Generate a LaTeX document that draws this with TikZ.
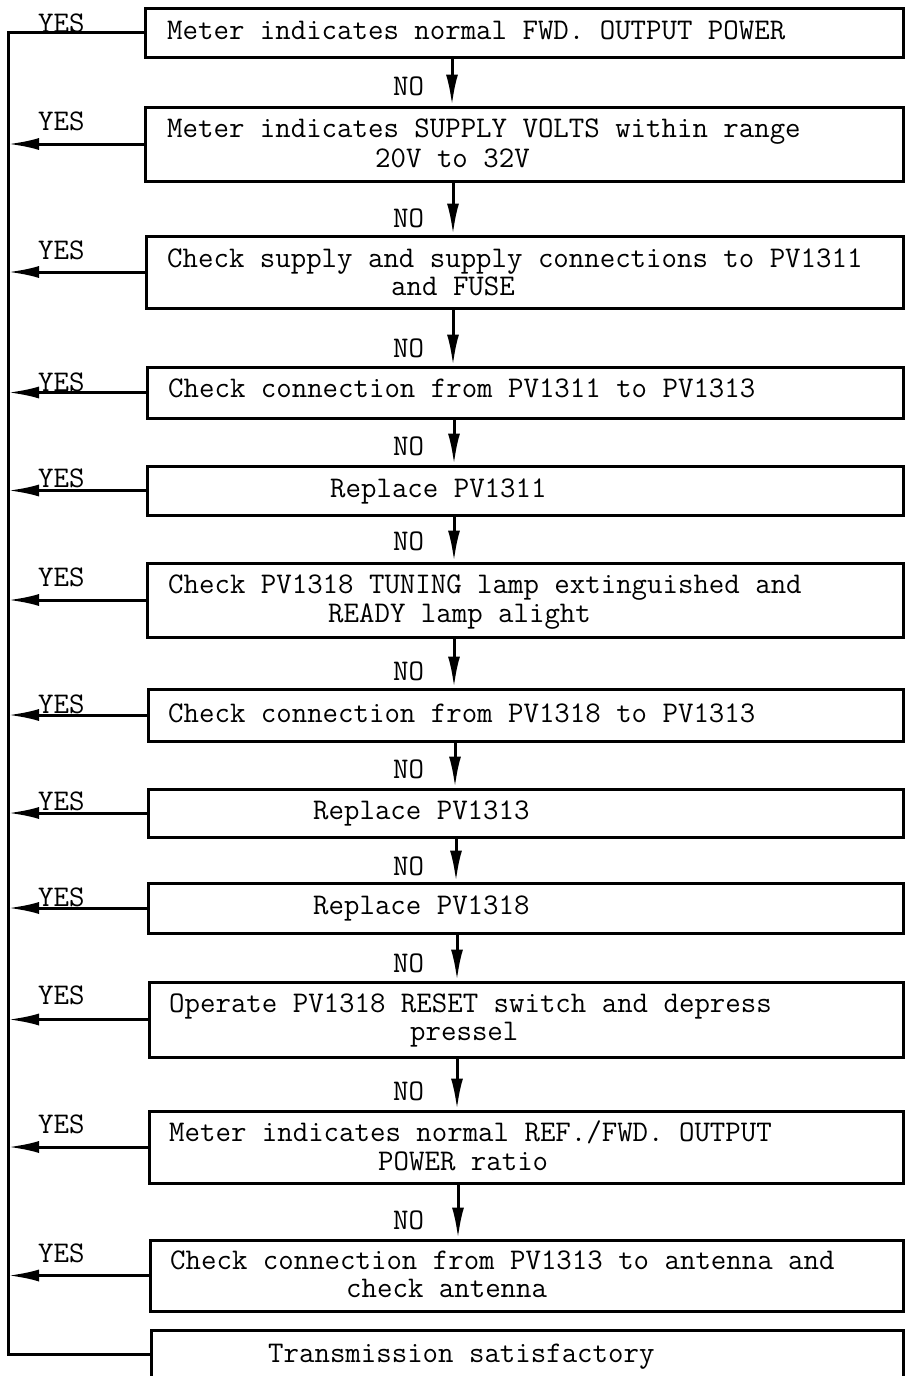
\documentclass[tikz,border=0pt]{standalone}
\usetikzlibrary{arrows.meta}
\newcommand\flowbox[4]{\node[box,minimum width={903-#2},minimum height={#4-#3}] (#1) at ({(#2+903)/2},{(#3+#4)/2}) {};}
\begin{document}
\begin{tikzpicture}[x=1pt,y=-1pt,
  box/.style={draw,line width=3pt,inner sep=0pt,rectangle},
  txt/.style={anchor=base west,inner sep=0pt,text height=19pt,text depth=6pt,font=\fontsize{30}{36}\selectfont\ttfamily\frenchspacing},
  conn/.style={line width=3pt},
  arr/.style={conn,-{Latex[length=31pt,width=12pt]}}]
\useasboundingbox (0,0) rectangle (911,1376);
\fill[white] (0,0) rectangle (911,1376);

\flowbox{b1}{145}{8}{57}
\flowbox{b2}{145}{107}{181}
\flowbox{b3}{146}{236}{308}
\flowbox{b4}{147}{367}{418}
\flowbox{b5}{147}{466}{515}
\flowbox{b6}{147}{563}{637}
\flowbox{b7}{148}{689}{741}
\flowbox{b8}{148}{789}{837}
\flowbox{b9}{148}{883}{933}
\flowbox{b10}{149}{982}{1057}
\flowbox{b11}{149}{1111}{1183}
\flowbox{b12}{150}{1240}{1311}
\flowbox{b13}{151}{1330}{1378}

% texts
\node[txt] (t1) at (167,39) {Meter indicates normal FWD. OUTPUT POWER};
\node[txt] (t2a) at (167,137) {Meter indicates SUPPLY VOLTS within range};
\node[txt] (t2b) at (375,167) {20V to 32V};
\node[txt] (t3a) at (167,267) {Check supply and supply connections to PV1311};
\node[txt] (t3b) at (391,295) {and FUSE};
\node[txt] (t4) at (168,397) {Check connection from PV1311 to PV1313};
\node[txt] (t5) at (330,497) {Replace PV1311};
\node[txt] (t6a) at (168,593) {Check PV1318 TUNING lamp extinguished and};
\node[txt] (t6b) at (328,622) {READY lamp alight};
\node[txt] (t7) at (168,722) {Check connection from PV1318 to PV1313};
\node[txt] (t8) at (313,819) {Replace PV1313};
\node[txt] (t9) at (313,914) {Replace PV1318};
\node[txt] (t10a) at (169,1012) {Operate PV1318 RESET switch and depress};
\node[txt] (t10b) at (410,1040) {pressel};
\node[txt] (t11a) at (169,1141) {Meter indicates normal REF./FWD. OUTPUT};
\node[txt] (t11b) at (378,1170) {POWER ratio};
\node[txt] (t12a) at (170,1269) {Check connection from PV1313 to antenna and};
\node[txt] (t12b) at (346,1297) {check antenna};
\node[txt] (t13) at (268,1362) {Transmission satisfactory};

% spine
\coordinate (s) at (8,0);
\draw[conn] (b1.west) -- (b1.west -| s) -- (b13.west -| s) -- (b13.west);
\foreach \i in {2,...,12} \draw[arr] (b\i.west) -- (b\i.west -| s);

% YES labels
\foreach \i/\yy in {1/32,2/130,3/259,4/391,5/487,6/586,7/713,8/810,9/906,10/1004,11/1133,12/1262}
  \node[txt] (yes\i) at (38,\yy) {YES};

% NO arrows
\foreach \a/\b/\x/\yy in {1/2/452/95, 2/3/453/227, 3/4/453/357, 4/5/454/455, 5/6/454/550, 6/7/454/680, 7/8/455/778, 8/9/456/875, 9/10/457/972, 10/11/457/1100, 11/12/458/1229} {
  \coordinate (x\a) at (\x,0);
  \draw[arr] (b\a.south -| x\a) -- (b\b.north -| x\a);
  \node[txt] (no\a) at (393,\yy) {NO};
}
\end{tikzpicture}
\end{document}
